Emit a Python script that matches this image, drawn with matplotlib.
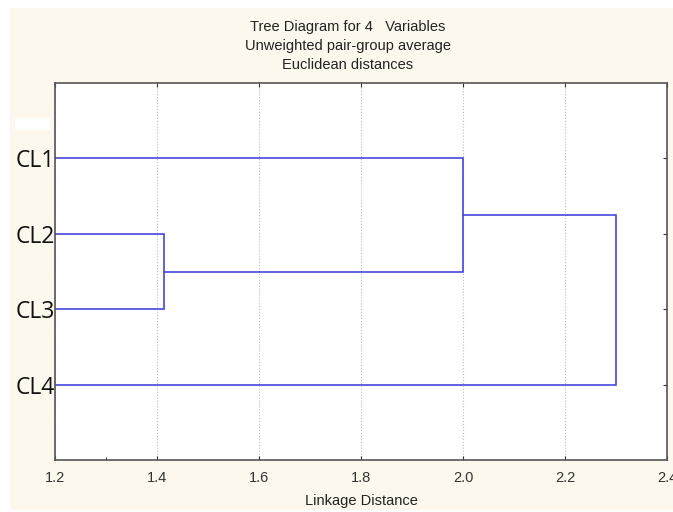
import matplotlib.pyplot as plt
from matplotlib.patches import Rectangle

# leaves (top to bottom) and linkage steps
leaves = ['CL1', 'CL2', 'CL3', 'CL4']
leaf_pos = [1, 2, 3, 4]
# (left member y, right member y, left member start x, right member start x, merge distance)
merge_a = [2, 3, 0.0, 0.0, 1.414]      # CL2 + CL3
merge_b = [1, 2.5, 0.0, 1.414, 2.0]    # CL1 + (CL2,CL3)
merge_c = [1.75, 4, 2.0, 0.0, 2.30]    # (CL1,CL2,CL3) + CL4
merges = [merge_a, merge_b, merge_c]

x_ticks = [1.2, 1.4, 1.6, 1.8, 2.0, 2.2, 2.4]
x_labels = ['1.2', '1.4', '1.6', '1.8', '2.0', '2.2', '2.4']
title_lines = ['Tree Diagram for 4   Variables', 'Unweighted pair-group average',
               'Euclidean distances']

line_col = '#4747dc'
cream = '#fdf8ee'
W, H = 673, 512

fig = plt.figure(figsize=(6.73, 5.12), dpi=100)
fig.patch.set_facecolor('white')
fig.patches.append(Rectangle((10 / W, 2 / H), 663 / W, 502 / H,
                             transform=fig.transFigure, facecolor=cream,
                             edgecolor='none', zorder=-2))
fig.patches.append(Rectangle((15 / W, 382 / H), 35 / W, 12 / H,
                             transform=fig.transFigure, facecolor='white',
                             edgecolor='none', zorder=-1))

ax = fig.add_axes([55 / W, 52 / H, 612 / W, 377 / H])
ax.set_zorder(2)
ax.set_facecolor('white')

for y1, y2, x1, x2, d in merges:
    ax.plot([x1, d, d, x2], [y1, y1, y2, y2], color=line_col, lw=1.2,
            solid_joinstyle='miter', clip_on=True)

ax.set_xlim(1.2, 2.4)
ax.set_ylim(5, 0)
ax.set_xticks(x_ticks)
ax.set_xticklabels(x_labels, fontsize=10.5, family='Liberation Sans', color='#333333')
ax.set_xticks([1.3], minor=True)
ax.set_yticks(leaf_pos)
ax.set_yticklabels(leaves, fontsize=16.5, family='Open Sans', color='#111111')
ax.tick_params(axis='x', direction='in', length=3, top=True, pad=8, color='#333333')
ax.tick_params(axis='x', which='minor', direction='in', length=2, top=False)
ax.tick_params(axis='y', direction='in', length=3, left=False, right=True, pad=0,
               color='#333333')
ax.grid(axis='x', color='#bbbbbb', ls=':', lw=0.8)
for s in ax.spines.values():
    s.set_color('#555555')
    s.set_linewidth(1.2)

fig.text(361 / W, 1 - 501 / H, 'Linkage Distance', fontsize=10.5,
         family='Liberation Sans', color='#222222', ha='center', va='center')
for i, line in enumerate(title_lines):
    fig.text(348 / W, 1 - (27 + 19.2 * i) / H, line, fontsize=10.5,
             family='Liberation Sans', color='#222222', ha='center', va='center')

fig.savefig('out.png', dpi=100)
